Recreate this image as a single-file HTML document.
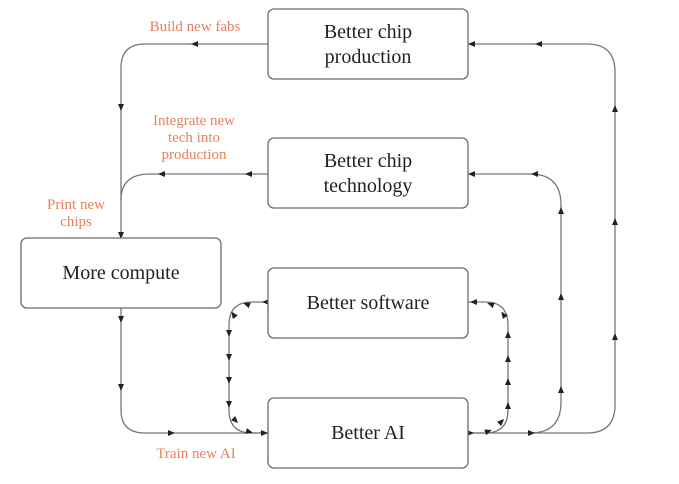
<!DOCTYPE html>
<html><head><style>
html,body{margin:0;padding:0;background:#fff;}
svg{display:block;}
.b{fill:#fff;stroke:#6b6b6b;stroke-width:1.3;}
.l{fill:none;stroke:#777;stroke-width:1.3;}
.t{font-family:"Liberation Serif",serif;font-size:20px;fill:#222;text-anchor:middle;}
.o{font-family:"Liberation Serif",serif;font-size:15px;fill:#e8805c;text-anchor:middle;}
</style></head><body>
<svg width="679" height="484" viewBox="0 0 679 484">
<defs>
<path id="a" d="M-4,-3 L3,0 L-4,3 Z" fill="#222"/>
</defs>
<!-- lines -->
<path class="l" d="M268,44 H145 Q121,44 121,68 V238"/>
<path class="l" d="M268,174 H150 Q121,174 121,200"/>
<path class="l" d="M121,308 V410 Q121,433 145,433 H268"/>
<path class="l" d="M468,433 H587 Q615,433 615,405 V72 Q615,44 587,44 H468"/>
<path class="l" d="M530,433 Q561,433 561,402 V205 Q561,174 530,174 H468"/>
<path class="l" d="M268,302 H252 Q229,302 229,325 V410 Q229,433 252,433 H268"/>
<path class="l" d="M468,433 H485 Q508,433 508,410 V325 Q508,302 485,302 H468"/>
<!-- arrows -->
<use href="#a" transform="translate(194,44) rotate(180)"/>
<use href="#a" transform="translate(121,108) rotate(90)"/>
<use href="#a" transform="translate(121,236) rotate(90)"/>
<use href="#a" transform="translate(248,174) rotate(180)"/>
<use href="#a" transform="translate(161,174) rotate(180)"/>
<use href="#a" transform="translate(121,320) rotate(90)"/>
<use href="#a" transform="translate(121,388) rotate(90)"/>
<use href="#a" transform="translate(172,433)"/>
<use href="#a" transform="translate(265,433)"/>
<use href="#a" transform="translate(471,44) rotate(180)"/>
<use href="#a" transform="translate(538,44) rotate(180)"/>
<use href="#a" transform="translate(471,174) rotate(180)"/>
<use href="#a" transform="translate(534,174) rotate(180)"/>
<use href="#a" transform="translate(471,433)"/>
<use href="#a" transform="translate(532,433)"/>
<use href="#a" transform="translate(615,108) rotate(-90)"/>
<use href="#a" transform="translate(615,221) rotate(-90)"/>
<use href="#a" transform="translate(615,336) rotate(-90)"/>
<use href="#a" transform="translate(561,210) rotate(-90)"/>
<use href="#a" transform="translate(561,296) rotate(-90)"/>
<use href="#a" transform="translate(561,389) rotate(-90)"/>
<!-- software loop left -->
<use href="#a" transform="translate(265,302) rotate(180)"/>
<use href="#a" transform="translate(246,304) rotate(200)"/>
<use href="#a" transform="translate(233,314) rotate(235)"/>
<use href="#a" transform="translate(229,334) rotate(90)"/>
<use href="#a" transform="translate(229,358) rotate(90)"/>
<use href="#a" transform="translate(229,381) rotate(90)"/>
<use href="#a" transform="translate(229,405) rotate(90)"/>
<use href="#a" transform="translate(236,421) rotate(45)"/>
<use href="#a" transform="translate(250,432) rotate(15)"/>
<!-- software loop right -->
<use href="#a" transform="translate(473,302) rotate(180)"/>
<use href="#a" transform="translate(490,304) rotate(200)"/>
<use href="#a" transform="translate(503,314) rotate(235)"/>
<use href="#a" transform="translate(508,334) rotate(-90)"/>
<use href="#a" transform="translate(508,358) rotate(-90)"/>
<use href="#a" transform="translate(508,381) rotate(-90)"/>
<use href="#a" transform="translate(508,405) rotate(-90)"/>
<use href="#a" transform="translate(502,421) rotate(-45)"/>
<use href="#a" transform="translate(489,431) rotate(-20)"/>
<!-- boxes -->
<rect class="b" x="268" y="9" width="200" height="70" rx="6"/>
<rect class="b" x="268" y="138" width="200" height="70" rx="6"/>
<rect class="b" x="21" y="238" width="200" height="70" rx="6"/>
<rect class="b" x="268" y="268" width="200" height="70" rx="6"/>
<rect class="b" x="268" y="398" width="200" height="70" rx="6"/>
<text class="t" x="368" y="38">Better chip</text>
<text class="t" x="368" y="63">production</text>
<text class="t" x="368" y="167">Better chip</text>
<text class="t" x="368" y="192">technology</text>
<text class="t" x="121" y="279">More compute</text>
<text class="t" x="368" y="309">Better software</text>
<text class="t" x="368" y="439">Better AI</text>
<!-- labels -->
<text class="o" x="195" y="31">Build new fabs</text>
<text class="o" x="194" y="125">Integrate new</text>
<text class="o" x="194" y="142">tech into</text>
<text class="o" x="194" y="159">production</text>
<text class="o" x="76" y="209">Print new</text>
<text class="o" x="76" y="226">chips</text>
<text class="o" x="196" y="458">Train new AI</text>
</svg>
</body></html>
